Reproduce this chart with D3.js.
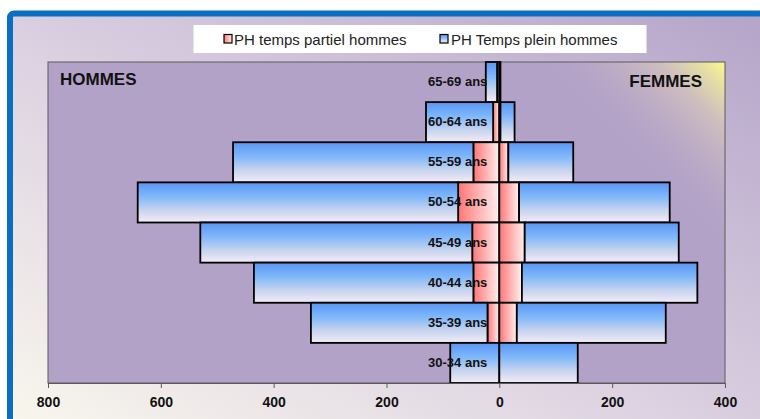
<!DOCTYPE html>
<html>
<head>
<meta charset="utf-8">
<script src="https://cdn.jsdelivr.net/npm/d3@7"></script>
<style>
  html, body { margin: 0; padding: 0; background: #fff; }
  svg { display: block; font-family: "Liberation Sans", Arial, sans-serif; }
</style>
</head>
<body>
<svg id="chart" width="760" height="419"></svg>
<script>
// ---- Data ----
const categories = ["65-69 ans","60-64 ans","55-59 ans","50-54 ans","45-49 ans","40-44 ans","35-39 ans","30-34 ans"];
const hommesPartiel = [4, 11, 46, 73, 48, 46, 21, 0];
const hommesPlein   = [20, 119, 426, 568, 482, 389, 313, 87];
const femmesPartiel = [2, 2, 16, 35, 45, 40, 31, 0];
const femmesPlein   = [0, 25, 115, 267, 273, 311, 264, 139];
const tickValues = [-800, -600, -400, -200, 0, 200, 400];
const legendLabels = ["PH temps partiel hommes", "PH Temps plein hommes"];
const sideLabels = ["HOMMES", "FEMMES"];

const svg = d3.select("#chart");
const W = 760, H = 419;
const plot = {left: 48, right: 725, top: 62, bottom: 383};

const defs = svg.append("defs");
// Background gradient
const bg = defs.append("linearGradient").attr("id", "bgGrad")
  .attr("x1", 0).attr("y1", 1).attr("x2", 1).attr("y2", 0);
bg.append("stop").attr("offset", 0).attr("stop-color", "#fbf9ee");
bg.append("stop").attr("offset", 0.45).attr("stop-color", "#ddd3e2");
bg.append("stop").attr("offset", 1).attr("stop-color", "#b3a3c8");
// Plot glow (diagonal from top-right corner)
const glow = defs.append("linearGradient").attr("id", "glow")
  .attr("gradientUnits", "userSpaceOnUse")
  .attr("x1", plot.right).attr("y1", plot.top)
  .attr("x2", plot.right - 95).attr("y2", plot.top + 95);
glow.append("stop").attr("offset", 0).attr("stop-color", "#fafa8c").attr("stop-opacity", 1);
glow.append("stop").attr("offset", 0.35).attr("stop-color", "#d8c9bb").attr("stop-opacity", 0.75);
glow.append("stop").attr("offset", 1).attr("stop-color", "#b3a2c8").attr("stop-opacity", 0);
// Blue bar gradient (vertical)
const blue = defs.append("linearGradient").attr("id", "blueGrad")
  .attr("x1", 0).attr("y1", 0).attr("x2", 0).attr("y2", 1);
blue.append("stop").attr("offset", 0).attr("stop-color", "#5a96f5");
blue.append("stop").attr("offset", 0.35).attr("stop-color", "#7fb7fa");
blue.append("stop").attr("offset", 0.7).attr("stop-color", "#c8d4ee");
blue.append("stop").attr("offset", 1).attr("stop-color", "#f4ecf7");
// Pink bar gradient (horizontal)
const pink = defs.append("linearGradient").attr("id", "pinkGrad")
  .attr("x1", 0).attr("y1", 0).attr("x2", 1).attr("y2", 0);
pink.append("stop").attr("offset", 0).attr("stop-color", "#ff7676");
pink.append("stop").attr("offset", 1).attr("stop-color", "#fff0f0");

// Frame
svg.append("rect").attr("x", 0).attr("y", 0).attr("width", W).attr("height", H).attr("fill", "#fff");
svg.append("rect").attr("x", 10).attr("y", 13.5).attr("width", W + 20).attr("height", H + 20)
  .attr("rx", 4).attr("fill", "url(#bgGrad)").attr("stroke", "#0a6ec2").attr("stroke-width", 6);

// Plot area
svg.append("rect").attr("x", plot.left).attr("y", plot.top)
  .attr("width", plot.right - plot.left).attr("height", plot.bottom - plot.top)
  .attr("fill", "#b3a2c8");
svg.append("rect").attr("x", plot.left).attr("y", plot.top)
  .attr("width", plot.right - plot.left).attr("height", plot.bottom - plot.top)
  .attr("fill", "url(#glow)").attr("stroke", "#5a5a5a").attr("stroke-width", 1);

// Scales
const x = d3.scaleLinear().domain([-800, 400]).range([plot.left, plot.right]);
const y = d3.scaleBand().domain(categories).range([plot.top, plot.bottom]).padding(0);

// Build segments (stacked from zero outward)
const segs = [];
categories.forEach((c, i) => {
  segs.push({c, x0: 0, x1: -hommesPartiel[i], fill: "url(#pinkGrad)"});
  segs.push({c, x0: -hommesPartiel[i], x1: -(hommesPartiel[i] + hommesPlein[i]), fill: "url(#blueGrad)"});
  segs.push({c, x0: 0, x1: femmesPartiel[i], fill: "url(#pinkGrad)"});
  segs.push({c, x0: femmesPartiel[i], x1: femmesPartiel[i] + femmesPlein[i], fill: "url(#blueGrad)"});
});
svg.append("g").selectAll("rect").data(segs.filter(d => d.x0 !== d.x1)).join("rect")
  .attr("x", d => x(Math.min(d.x0, d.x1)))
  .attr("y", d => y(d.c))
  .attr("width", d => Math.abs(x(d.x1) - x(d.x0)))
  .attr("height", y.bandwidth())
  .attr("fill", d => d.fill)
  .attr("stroke", "#000").attr("stroke-width", 1.8);

// Category labels
svg.append("g").selectAll("text").data(categories).join("text")
  .attr("x", x(0) - 12)
  .attr("y", d => y(d) + y.bandwidth() / 2 + 4)
  .attr("text-anchor", "end")
  .attr("font-size", 13).attr("font-weight", "bold").attr("fill", "#111")
  .text(d => d);

// X axis
const axis = d3.axisBottom(x).tickValues(tickValues).tickSize(5).tickSizeOuter(0)
  .tickFormat(d => Math.abs(d));
const ax = svg.append("g").attr("transform", `translate(0,${plot.bottom})`).call(axis);
ax.select(".domain").attr("stroke", "#5a5a5a");
ax.selectAll(".tick line").attr("stroke", "#5a5a5a");
ax.selectAll(".tick text").attr("font-size", 14).attr("font-weight", "bold")
  .attr("fill", "#111").attr("dy", 0).attr("y", 23.5)
  .attr("font-family", "'Liberation Sans', Arial, sans-serif");

// Side labels
svg.append("text").attr("x", 60).attr("y", 85).attr("font-size", 17).attr("font-weight", "bold")
  .attr("fill", "#111").text(sideLabels[0]);
svg.append("text").attr("x", 702).attr("y", 87).attr("text-anchor", "end").attr("font-size", 17)
  .attr("font-weight", "bold").attr("fill", "#111").text(sideLabels[1]);

// Legend
svg.append("rect").attr("x", 193.5).attr("y", 25).attr("width", 453).attr("height", 28).attr("fill", "#fff");
const legItems = [
  {label: legendLabels[0], fill: "url(#pinkGrad)", mx: 224, tx: 234},
  {label: legendLabels[1], fill: "url(#blueGrad)", mx: 440, tx: 451}
];
const lg = svg.append("g").selectAll("g").data(legItems).join("g");
lg.append("rect").attr("x", d => d.mx).attr("y", 34.5).attr("width", 8).attr("height", 8.5)
  .attr("fill", d => d.fill).attr("stroke", "#000").attr("stroke-width", 1.2);
lg.append("text").attr("x", d => d.tx).attr("y", 44.5).attr("font-size", 15).attr("fill", "#222")
  .text(d => d.label);
</script>
</body>
</html>
